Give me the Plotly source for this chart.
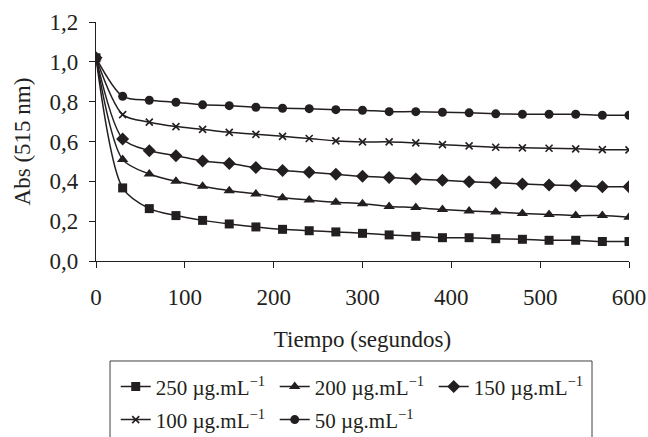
import plotly.graph_objects as go

time_s = [0, 30, 60, 90, 120, 150, 180, 210, 240, 270, 300, 330, 360, 390, 420, 450, 480, 510, 540, 570, 600]

abs_250 = [1.02, 0.367, 0.263, 0.228, 0.204, 0.186, 0.171, 0.159, 0.152, 0.146, 0.139, 0.131, 0.124, 0.117, 0.117, 0.112, 0.109, 0.104, 0.104, 0.098, 0.098]
abs_200 = [1.02, 0.509, 0.437, 0.400, 0.375, 0.353, 0.337, 0.318, 0.306, 0.295, 0.288, 0.274, 0.268, 0.258, 0.251, 0.246, 0.239, 0.234, 0.228, 0.228, 0.220]
abs_150 = [1.02, 0.613, 0.554, 0.529, 0.502, 0.489, 0.469, 0.454, 0.445, 0.435, 0.425, 0.419, 0.412, 0.405, 0.398, 0.393, 0.387, 0.382, 0.378, 0.373, 0.373]
abs_100 = [1.02, 0.735, 0.697, 0.675, 0.661, 0.646, 0.636, 0.626, 0.615, 0.603, 0.598, 0.598, 0.593, 0.584, 0.578, 0.571, 0.568, 0.566, 0.563, 0.559, 0.558]
abs_50 = [1.02, 0.827, 0.807, 0.797, 0.784, 0.780, 0.772, 0.767, 0.765, 0.760, 0.757, 0.750, 0.750, 0.747, 0.744, 0.739, 0.737, 0.737, 0.737, 0.732, 0.732]

series_names = ["250 µg.mL<sup>−1</sup>", "200 µg.mL<sup>−1</sup>", "150 µg.mL<sup>−1</sup>",
                "100 µg.mL<sup>−1</sup>", "50 µg.mL<sup>−1</sup>"]
series_values = [abs_250, abs_200, abs_150, abs_100, abs_50]
symbols = ["square", "triangle-up", "diamond", "x-thin", "circle"]
sizes = [9, 10, 10, 7, 9]
legends = ["legend", "legend", "legend", "legend2", "legend2"]

INK = "#231f20"
FONT = "Liberation Serif"
FS = 23
LFS = 21

fig = go.Figure()
for name, vals, sym, sz, lg in zip(series_names, series_values, symbols, sizes, legends):
    marker = dict(symbol=sym, size=sz, color=INK)
    if sym == "x-thin":
        marker["line"] = dict(width=1.6, color=INK)
    fig.add_trace(go.Scatter(
        x=time_s, y=vals, name=name, mode="lines+markers",
        line=dict(color=INK, width=1.5, shape="spline", smoothing=0.8),
        marker=marker, legend=lg,
    ))

fig.update_layout(
    width=648, height=437,
    margin=dict(l=96, r=19, t=22, b=176, autoexpand=False),
    paper_bgcolor="white", plot_bgcolor="white",
    font=dict(family=FONT, size=FS, color=INK),
    separators=", ",
    showlegend=True,
    legend=dict(orientation="h", x=0.037, y=-0.527, xanchor="left", yanchor="middle",
                entrywidth=114, borderwidth=0, bgcolor="rgba(0,0,0,0)",
                font=dict(family=FONT, size=LFS, color=INK)),
    legend2=dict(orientation="h", x=0.037, y=-0.665, xanchor="left", yanchor="middle",
                 entrywidth=114, borderwidth=0, bgcolor="rgba(0,0,0,0)",
                 font=dict(family=FONT, size=LFS, color=INK)),
    shapes=[dict(type="rect", xref="paper", yref="paper",
                 x0=0.0263, x1=0.9306, y0=-0.4184, y1=-0.80,
                 line=dict(color="#404040", width=1), fillcolor="rgba(0,0,0,0)")],
)

fig.update_xaxes(
    range=[0, 600], tickvals=[0, 100, 200, 300, 400, 500, 600],
    showline=True, linecolor=INK, linewidth=1.2,
    ticks="outside", ticklen=6, tickcolor=INK, tickwidth=1.2,
    showgrid=False, zeroline=False, ticklabelstandoff=9,
    title=dict(text="Tiempo (segundos)", standoff=22, font=dict(family=FONT, size=FS, color=INK)),
)
fig.update_yaxes(
    range=[0, 1.2], tickvals=[0, 0.2, 0.4, 0.6, 0.8, 1.0, 1.2], tickformat=".1f",
    showline=True, linecolor=INK, linewidth=1.2,
    ticks="outside", ticklen=6, tickcolor=INK, tickwidth=1.2,
    showgrid=False, zeroline=False, ticklabelstandoff=6,
    title=dict(text="Abs (515 nm)", standoff=12, font=dict(family=FONT, size=FS, color=INK)),
)

fig.write_html("out.html")
